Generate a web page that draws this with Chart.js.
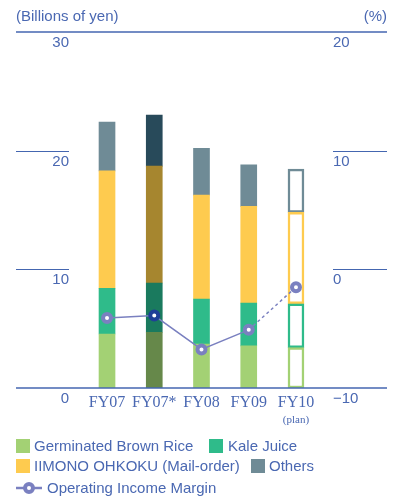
<!DOCTYPE html>
<html>
<head>
<meta charset="utf-8">
<script src="https://cdn.jsdelivr.net/npm/chart.js@4/dist/chart.umd.min.js"></script>
<style>
  body { margin: 0; background: #fff; }
  #wrap { position: relative; width: 393px; height: 497px; font-family: "Liberation Sans", Arial, sans-serif; color: #4a68b2; }
  canvas { position: absolute; left: 0; top: 0; }
  .lg { position: absolute; font-size: 15px; line-height: 16px; white-space: nowrap; }
  .sw { position: absolute; width: 14px; height: 14px; }
</style>
</head>
<body>
<div id="wrap">
  <canvas id="myChart" width="393" height="497"></canvas>
  <div class="sw" style="left:16px;top:439px;background:#a3d174"></div>
  <div class="lg" style="left:34px;top:438px">Germinated Brown Rice</div>
  <div class="sw" style="left:209px;top:439px;background:#2fbb8a"></div>
  <div class="lg" style="left:228px;top:438px">Kale Juice</div>
  <div class="sw" style="left:16px;top:459px;background:#fecb4f"></div>
  <div class="lg" style="left:34px;top:458px">IIMONO OHKOKU (Mail-order)</div>
  <div class="sw" style="left:251px;top:459px;background:#6f8b96"></div>
  <div class="lg" style="left:269px;top:458px">Others</div>
  <div class="lg" style="left:47px;top:480px">Operating Income Margin</div>
  <svg style="position:absolute;left:14px;top:481px" width="30" height="14">
    <line x1="2" y1="7" x2="28" y2="7" stroke="#7a80c0" stroke-width="2.5"/>
    <circle cx="15" cy="7" r="4" fill="#fff" stroke="#7a80c0" stroke-width="4"/>
  </svg>
</div>
<script>
const categories = ['FY07', 'FY07*', 'FY08', 'FY09', 'FY10'];
const subLabels = ['', '', '', '', '(plan)'];

// sales in billions of yen
const brownRice = [4.55, 4.7, 3.7, 3.55, 3.4];
const kaleJuice = [3.85, 4.15, 3.8, 3.6, 3.7];
const iimono = [9.9, 9.85, 8.75, 8.15, 7.7];
const others = [4.1, 4.3, 3.95, 3.5, 3.65];

// operating income margin, %
const margin = [-4.1, -3.9, -6.75, -5.1, -1.5];

const leftTicks = [0, 10, 20, 30];
const rightTicks = [-10, 0, 10, 20];

const textColor = '#4a68b2';
const lineBlue = '#4466b0';

// normal colour, darker FY07* colour; FY10 is outlined only
function segColors(normal, dark) {
    return categories.map((c, i) => i === 1 ? dark : (i === 4 ? '#ffffff' : normal));
}
function segBorders(normal, dark) {
    return categories.map((c, i) => i === 1 ? dark : normal);
}
function barSet(label, data, normal, dark) {
    return {
        type: 'bar',
        label: label,
        data: data,
        yAxisID: 'y',
        stack: 's',
        order: 1,
        backgroundColor: segColors(normal, dark),
        borderColor: segBorders(normal, dark),
        borderWidth: categories.map((c, i) => i === 4 ? 2.5 : 0),
        borderSkipped: false,
        barThickness: 16
    };
}

const axesPlugin = {
    id: 'axesPlugin',
    afterDraw(chart) {
        const ctx = chart.ctx;
        const y = chart.scales.y, y1 = chart.scales.y1, x = chart.scales.x;
        const L = 16, R = 387;
        ctx.save();
        ctx.fillStyle = textColor;
        ctx.font = '15px "Liberation Sans", Arial, sans-serif';
        ctx.textBaseline = 'middle';
        ctx.textAlign = 'left';
        ctx.fillText('(Billions of yen)', L, 17);
        ctx.textAlign = 'right';
        ctx.fillText('(%)', R, 17);

        // short gridline segments at both sides
        ctx.strokeStyle = lineBlue;
        ctx.lineWidth = 1;
        [10, 20].forEach(v => {
            const py = Math.round(y.getPixelForValue(v)) + 0.5;
            ctx.beginPath();
            ctx.moveTo(L, py); ctx.lineTo(69, py);
            ctx.moveTo(333, py); ctx.lineTo(R, py);
            ctx.stroke();
        });
        // full-width top and base lines
        ctx.lineWidth = 1.5;
        [30, 0].forEach(v => {
            const py = y.getPixelForValue(v);
            ctx.beginPath();
            ctx.moveTo(L, py); ctx.lineTo(R, py);
            ctx.stroke();
        });

        ctx.font = '15px "Liberation Sans", Arial, sans-serif';
        leftTicks.forEach(v => {
            ctx.textAlign = v === 0 ? 'center' : 'right';
            ctx.fillText(String(v), v === 0 ? 65 : 69, y.getPixelForValue(v) + 11);
        });
        ctx.textAlign = 'left';
        rightTicks.forEach(v => {
            ctx.fillText(v < 0 ? '\u2212' + Math.abs(v) : String(v), 333, y1.getPixelForValue(v) + 11);
        });

        // category labels
        ctx.textAlign = 'center';
        categories.forEach((c, i) => {
            const px = x.getPixelForValue(i);
            ctx.font = '16px "Liberation Serif", "Times New Roman", serif';
            ctx.fillText(c, px, 403);
            if (subLabels[i]) {
                ctx.font = '11px "Liberation Serif", "Times New Roman", serif';
                ctx.fillText(subLabels[i], px, 420);
            }
        });
        ctx.restore();
    }
};

new Chart(document.getElementById('myChart'), {
    data: {
        labels: categories,
        datasets: [
            {
                type: 'line',
                label: 'Operating Income Margin',
                data: margin,
                yAxisID: 'y1',
                order: 0,
                borderColor: '#7a80c0',
                borderWidth: 1.5,
                pointRadius: 4,
                pointBorderWidth: 4,
                pointBackgroundColor: '#ffffff',
                pointBorderColor: categories.map((c, i) => i === 1 ? '#1f3f98' : '#7a80c0'),
                segment: {
                    borderDash: ctx => ctx.p1DataIndex === 4 ? [3, 3] : undefined
                }
            },
            barSet('Germinated Brown Rice', brownRice, '#a3d174', '#66884a'),
            barSet('Kale Juice', kaleJuice, '#2fbb8a', '#1a7a5e'),
            barSet('IIMONO OHKOKU (Mail-order)', iimono, '#fecb4f', '#a6862f'),
            barSet('Others', others, '#6f8b96', '#284a5a')
        ]
    },
    options: {
        responsive: false,
        animation: false,
        layout: { padding: { left: 83.4, right: 73.4, top: 32, bottom: 109 } },
        plugins: { legend: { display: false }, tooltip: { enabled: false } },
        scales: {
            x: { display: false, offset: true, stacked: true },
            y: { display: false, stacked: true, min: 0, max: 30 },
            y1: { display: false, position: 'right', min: -10, max: 20 }
        }
    },
    plugins: [axesPlugin]
});
</script>
</body>
</html>
